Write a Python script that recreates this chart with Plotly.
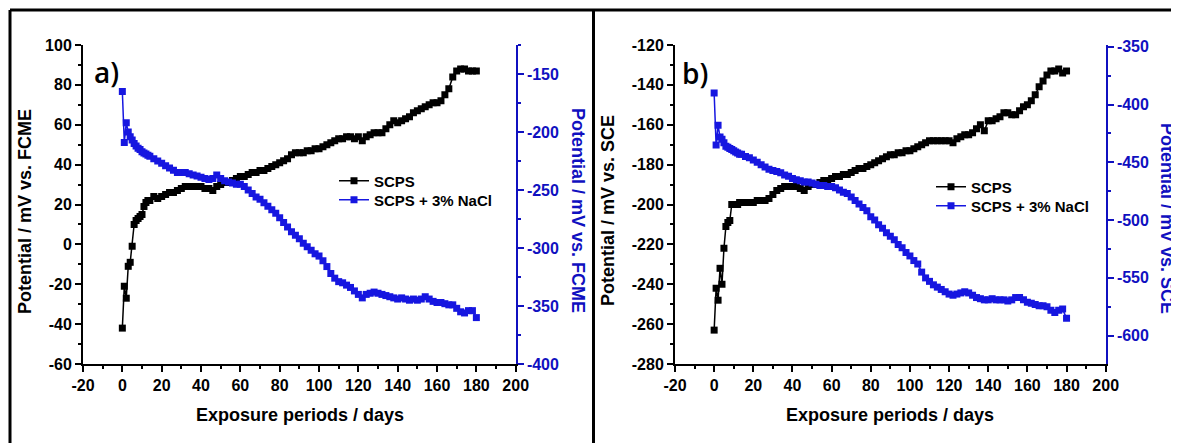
import plotly.graph_objects as go

# ---------------- data ----------------
days = [0, 1, 2, 3, 4, 5, 6, 7, 8, 9, 10, 11, 12, 13, 14,
        16, 18, 20, 22, 24, 26, 28, 30, 32, 34,
        36, 38, 40, 42, 44, 46, 48, 50, 52, 54,
        56, 58, 60, 62, 64, 66, 68, 70, 72, 74,
        76, 78, 80, 82, 84, 86, 88, 90, 92, 94,
        96, 98, 100, 102, 104, 106, 108, 110, 112, 114,
        116, 118, 120, 122, 124, 126, 128, 130, 132, 134,
        136, 138, 140, 142, 144, 146, 148, 150, 152, 154,
        156, 158, 160, 162, 164, 166, 168, 170, 172, 174,
        176, 178, 180]

# panel a) potential vs. FCME
a_scps = [-42, -21, -27, -11, -9, -1, 10, 12, 13, 14, 15, 19, 21, 22, 22,
          24, 23, 24, 25, 26, 26, 27, 28, 29, 29,
          29, 29, 29, 28, 28, 27, 29, 30, 31, 31,
          32, 33, 34, 34, 35, 36, 36, 37, 37, 38,
          39, 40, 41, 42, 43, 45, 46, 46, 46, 47,
          47, 48, 48, 49, 50, 51, 52, 53, 53, 54,
          54, 53, 54, 52, 54, 55, 56, 56, 56, 58,
          60, 62, 61, 62, 63, 64, 66, 67, 68, 69,
          70, 71, 71, 72, 75, 78, 84, 87, 88, 88,
          87, 87, 87]

a_nacl = [-165, -209, -192, -200, -204, -207, -210, -212, -214, -215, -217, -218, -219, -220, -221,
          -223, -225, -227, -229, -231, -233, -235, -235, -235, -236,
          -237, -238, -239, -240, -241, -240, -237, -240, -242, -243,
          -244, -245, -245, -247, -250, -253, -256, -258, -261, -264,
          -267, -270, -274, -278, -282, -286, -289, -292, -296, -299,
          -302, -305, -307, -311, -316, -322, -326, -329, -330, -332,
          -334, -337, -340, -343, -340, -339, -338, -339, -340, -341,
          -342, -343, -344, -343, -344, -345, -344, -345, -344, -342,
          -344, -346, -347, -347, -348, -349, -349, -352, -355, -356,
          -354, -354, -360]

# panel b) potential vs. SCE
b_scps = [-263, -242, -248, -232, -240, -222, -211, -209, -208, -200, -200, -200, -200, -199, -199,
          -199, -199, -199, -198, -198, -198, -197, -195, -193, -192,
          -191, -191, -191, -191, -192, -193, -191, -190, -190, -189,
          -188, -188, -187, -186, -186, -185, -185, -184, -183, -182,
          -182, -181, -180, -179, -178, -177, -176, -175, -175, -174,
          -174, -173, -173, -172, -171, -170, -169, -168, -168, -168,
          -168, -168, -168, -169, -167, -166, -165, -165, -164, -162,
          -160, -163, -158, -158, -157, -156, -154, -154, -155, -155,
          -153, -151, -150, -148, -145, -141, -138, -135, -133, -133,
          -132, -134, -133]

b_nacl = [-390, -435, -418, -428, -430, -433, -436, -437, -438, -439, -440, -441, -442, -443, -443,
          -445, -446, -448, -450, -452, -454, -456, -457, -458, -459,
          -461, -462, -464, -465, -466, -467, -467, -468, -469, -470,
          -470, -471, -471, -472, -474, -476, -477, -480, -483, -486,
          -489, -492, -497, -500, -504, -507, -511, -514, -517, -521,
          -524, -528, -531, -535, -538, -545, -550, -553, -556, -558,
          -560, -562, -564, -565, -564, -563, -562, -563, -565, -567,
          -568, -569, -569, -568, -569, -569, -569, -570, -569, -567,
          -567, -569, -571, -572, -573, -574, -574, -575, -578, -580,
          -578, -577, -585]

series_names = ["SCPS", "SCPS + 3% NaCl"]

x_ticks = [-20, 0, 20, 40, 60, 80, 100, 120, 140, 160, 180, 200]
x_ticklabels = ["-20", "0", "20", "40", "60", "80", "100", "120", "140", "160", "180", "200"]
a_left_ticks = [-60, -40, -20, 0, 20, 40, 60, 80, 100]
a_left_labels = ["-60", "-40", "-20", "0", "20", "40", "60", "80", "100"]
a_right_ticks = [-400, -350, -300, -250, -200, -150]
a_right_labels = ["-400", "-350", "-300", "-250", "-200", "-150"]
b_left_ticks = [-280, -260, -240, -220, -200, -180, -160, -140, -120]
b_left_labels = ["-280", "-260", "-240", "-220", "-200", "-180", "-160", "-140", "-120"]
b_right_ticks = [-600, -550, -500, -450, -400, -350]
b_right_labels = ["-600", "-550", "-500", "-450", "-400", "-350"]

# ---------------- styling ----------------
# the page body has an 8 px margin, so the figure is laid out 8 px smaller
OFF = 8
W, H = 1179 - OFF, 443 - OFF
def px(v):
    return (v - OFF) / W
def py(v):
    return 1 - (v - OFF) / H

BLACK = "#000000"
BLUE_M = "#1616e0"
BLUE_A = "#1010c0"
FONT = "Liberation Sans"

fig = go.Figure()

def add_pair(xa, ya_left, ya_right, y_black, y_blue, leg_black, leg_blue):
    fig.add_trace(go.Scatter(
        x=days, y=y_black, mode="lines+markers", name=series_names[0],
        xaxis=xa, yaxis=ya_left, legend=leg_black,
        line=dict(color=BLACK, width=1.5),
        marker=dict(symbol="square", size=7, color=BLACK)))
    fig.add_trace(go.Scatter(
        x=days, y=y_blue, mode="lines+markers", name=series_names[1],
        xaxis=xa, yaxis=ya_right, legend=leg_blue,
        line=dict(color=BLUE_M, width=1.5),
        marker=dict(symbol="square", size=7, color=BLUE_M)))

add_pair("x", "y", "y2", a_scps, a_nacl, "legend", "legend2")
add_pair("x2", "y3", "y4", b_scps, b_nacl, "legend3", "legend4")

tickfont = dict(family=FONT, size=16, color=BLACK, weight="bold")
ydom = [py(364), py(45)]

def xaxis_bottom(domain, anchor):
    return dict(domain=domain, anchor=anchor, range=[-20, 200], automargin=False,
                tickmode="array", tickvals=x_ticks, ticktext=x_ticklabels,
                ticks="outside", ticklen=6, tickwidth=1.5, tickcolor=BLACK,
                showline=True, linecolor=BLACK, linewidth=2,
                showgrid=False, zeroline=False, tickfont=tickfont,
                minor=dict(tickmode="linear", tick0=-20, dtick=10, ticks="outside",
                           ticklen=3, tickwidth=1.5, tickcolor=BLACK, showgrid=False))

def xaxis_top(over, anchor):
    return dict(overlaying=over, side="top", anchor=anchor, range=[-20, 200], automargin=False,
                tickmode="linear", tick0=-20, dtick=20,
                ticks="inside", ticklen=5, tickwidth=1.5, tickcolor=BLACK,
                showticklabels=False, showline=True, linecolor=BLACK, linewidth=2,
                showgrid=False, zeroline=False,
                minor=dict(tickmode="linear", tick0=-20, dtick=10, ticks="inside",
                           ticklen=3, tickwidth=1.5, tickcolor=BLACK, showgrid=False))

def yaxis_left(rng, tv, tt, anchor, minor_dtick):
    return dict(domain=ydom, anchor=anchor, side="left", range=rng, automargin=False,
                tickmode="array", tickvals=tv, ticktext=tt,
                ticks="outside", ticklen=6, tickwidth=1.5, tickcolor=BLACK,
                showline=True, linecolor=BLACK, linewidth=2,
                showgrid=False, zeroline=False, tickfont=tickfont,
                minor=dict(tickmode="linear", tick0=tv[0], dtick=minor_dtick, ticks="outside",
                           ticklen=3, tickwidth=1.5, tickcolor=BLACK, showgrid=False))

def yaxis_right(rng, tv, tt, over, anchor, minor_dtick):
    return dict(overlaying=over, anchor=anchor, side="right", range=rng, automargin=False,
                tickmode="array", tickvals=tv, ticktext=tt,
                ticks="outside", ticklen=6, tickwidth=1.5, tickcolor=BLUE_A,
                showline=True, linecolor=BLUE_A, linewidth=2,
                showgrid=False, zeroline=False,
                tickfont=dict(family=FONT, size=16, color=BLUE_A, weight="bold"),
                minor=dict(tickmode="linear", tick0=tv[0], dtick=minor_dtick, ticks="outside",
                           ticklen=3, tickwidth=1.5, tickcolor=BLUE_A, showgrid=False))

legend_style = dict(xanchor="left", yanchor="middle", bgcolor="rgba(0,0,0,0)",
                    borderwidth=0, itemwidth=30, tracegroupgap=0,
                    font=dict(family=FONT, size=15, color=BLACK, weight="bold"))

fig.update_layout(
    width=W, height=H,
    margin=dict(l=0, r=0, t=0, b=0, pad=0, autoexpand=False),
    paper_bgcolor="white", plot_bgcolor="white",
    showlegend=True,
    xaxis=xaxis_bottom([px(83), px(515.7)], "y"),
    xaxis3=xaxis_top("x", "y"),
    yaxis=yaxis_left([-60, 100], a_left_ticks, a_left_labels, "x", 10),
    yaxis2=yaxis_right([-400, -125], a_right_ticks, a_right_labels, "y", "x", 25),
    xaxis2=xaxis_bottom([px(675), px(1105.7)], "y3"),
    xaxis4=xaxis_top("x2", "y3"),
    yaxis3=yaxis_left([-280, -120], b_left_ticks, b_left_labels, "x2", 10),
    yaxis4=yaxis_right([-624.5, -348.5], b_right_ticks, b_right_labels, "y3", "x2", 25),
    legend=dict(x=px(334), y=py(181), **legend_style),
    legend2=dict(x=px(334), y=py(200), **legend_style),
    legend3=dict(x=px(931), y=py(187), **legend_style),
    legend4=dict(x=px(931), y=py(206), **legend_style),
)

title_font = dict(family=FONT, size=18, color=BLACK, weight="bold")
blue_title_font = dict(family=FONT, size=18, color=BLUE_A, weight="bold")
panel_font = dict(family="Open Sans", size=28, color=BLACK, weight=600)

def ann(text, x, y, font, angle=0):
    fig.add_annotation(text=text, x=px(x), y=py(y), xref="paper", yref="paper",
                       showarrow=False, xanchor="center", yanchor="middle",
                       textangle=angle, font=font)

ann("a)", 106, 72, panel_font)
ann("b)", 695, 73, panel_font)
ann("Potential / mV vs. FCME", 25, 212, title_font, -90)
ann("Potential / mV vs. FCME", 578, 210, blue_title_font, 90)
ann("Exposure periods / days", 300, 415, title_font)
ann("Potential / mV vs. SCE", 608, 210, title_font, -90)
ann("Potential / mV vs. SCE", 1167, 218, blue_title_font, 90)
ann("Exposure periods / days", 890, 415, title_font)

# figure frame lines
for x0, y0, x1, y1 in [(10, 10, 10, 443), (10, 10, 1179, 10), (593.5, 10, 593.5, 443)]:
    fig.add_shape(type="line", xref="paper", yref="paper",
                  x0=px(x0), y0=py(y0), x1=px(x1), y1=py(y1),
                  line=dict(color=BLACK, width=3))

fig.write_html("out.html")
